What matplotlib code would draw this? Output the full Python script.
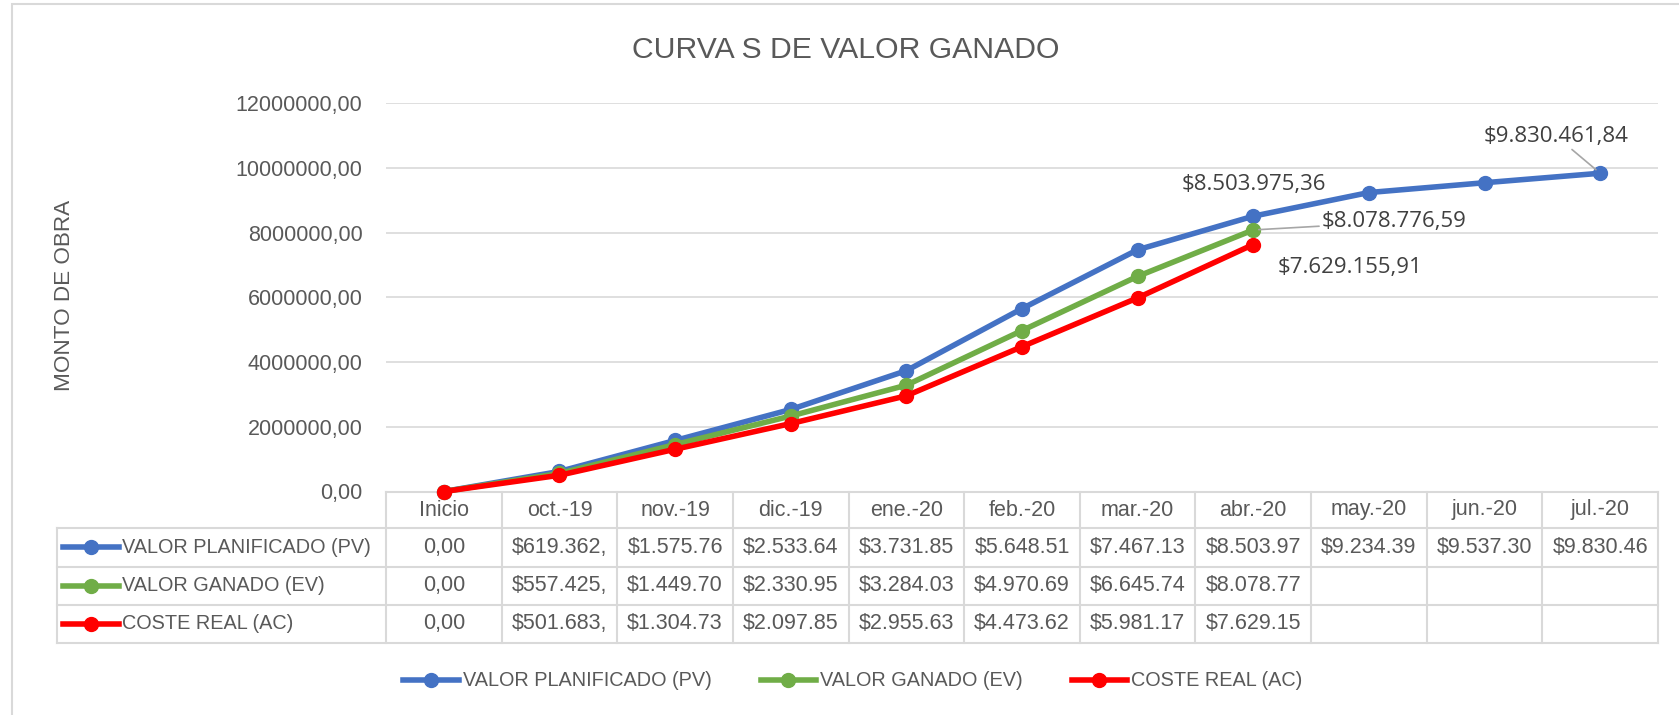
import numpy as np
import matplotlib
matplotlib.use("Agg")
import matplotlib.pyplot as plt
from matplotlib.lines import Line2D
from matplotlib.patches import Rectangle
from matplotlib.transforms import blended_transform_factory

categories = ["Inicio", "oct.-19", "nov.-19", "dic.-19", "ene.-20", "feb.-20",
              "mar.-20", "abr.-20", "may.-20", "jun.-20", "jul.-20"]
pv = [0, 619362, 1575760, 2533640, 3731850, 5648510, 7467130, 8503975.36,
      9234390, 9537300, 9830461.84]
ev = [0, 557425, 1449700, 2330950, 3284030, 4970690, 6645740, 8078776.59]
ac = [0, 501683, 1304730, 2097850, 2955630, 4473620, 5981170, 7629155.91]
series_names = ["VALOR PLANIFICADO (PV)", "VALOR GANADO (EV)", "COSTE REAL (AC)"]
yticks = [0, 2e6, 4e6, 6e6, 8e6, 10e6, 12e6]

colors = ["#4472C4", "#70AD47", "#FF0000"]
txt = "#595959"
grid = "#D9D9D9"
W, H = 1679, 715
FONT = "Liberation Sans"


def money(v):
    s = f"{v:,.2f}".replace(",", "X").replace(".", ",").replace("X", ".")
    return s


def cell(v):
    # Excel cuts the text at the cell border
    if v == 0:
        return "0,00"
    return ("$" + money(v))[:9]


def fx(px):
    return px / W


def fy(py):
    return 1 - py / H


def main():
    plt.rcParams["font.family"] = [FONT, "DejaVu Sans"]
    fig = plt.figure(figsize=(W / 100, H / 100), dpi=100)
    fig.patches.append(Rectangle((fx(12), -0.1), 1.2, fy(4) + 0.1,
                                 transform=fig.transFigure, fill=False,
                                 edgecolor=grid, lw=1.5))

    ax = fig.add_axes([fx(386), fy(491.5), fx(1658) - fx(386), fy(103) - fy(491.5)])
    x = np.arange(len(categories))
    ax.set_xlim(-0.5, len(categories) - 0.5)
    ax.set_ylim(0, 12e6)
    ax.set_yticks(yticks)
    ax.set_yticklabels([f"{v:.2f}".replace(".", ",") for v in yticks],
                       fontsize=15.5, color=txt)
    ax.tick_params(axis="y", length=0, pad=17)
    ax.set_xticks([])
    for s in ["top", "right", "left"]:
        ax.spines[s].set_visible(False)
    ax.spines["bottom"].set_color(grid)
    ax.spines["bottom"].set_linewidth(1.5)
    ax.grid(axis="y", color=grid, lw=1.2)
    ax.set_axisbelow(True)

    handles = []
    for vals, c, name in zip([pv, ev, ac], colors, series_names):
        h, = ax.plot(x[:len(vals)], vals, color=c, lw=4, marker="o", ms=10,
                     label=name, clip_on=False, zorder=3)
        handles.append(h)

    ann = dict(fontsize=16, color="#404040", family=["Open Sans", "DejaVu Sans"],
               textcoords="offset pixels", ha="center", va="center")
    lead = dict(arrowstyle="-", color="#A6A6A6", lw=1.2, shrinkA=0, shrinkB=4)
    ax.annotate("$" + money(pv[7]), (7, pv[7]), xytext=(1, 32), **ann)
    ax.annotate("$" + money(ev[7]), (7, ev[7]), xytext=(141, 8), arrowprops=lead,
                **ann)
    ax.annotate("$" + money(ac[7]), (7, ac[7]), xytext=(97, -23), **ann)
    ax.annotate("$" + money(pv[10]), (10, pv[10]), xytext=(-44, 37),
                arrowprops=lead, **ann)

    fig.text(fx(846), fy(50), "CURVA S DE VALOR GANADO", fontsize=21.7,
             color=txt, ha="center", va="center")
    fig.text(fx(64), fy(295), "MONTO DE OBRA", fontsize=16.2, color=txt,
             rotation=90, ha="center", va="center")

    # data table under the axis
    tr = blended_transform_factory(ax.transData, fig.transFigure)
    rows = [491.5, 528, 566.5, 604.5, 642.5]
    for i, name in enumerate(categories):
        ax.text(i, fy(510), name, transform=tr, ha="center", va="center",
                fontsize=15.5, color=txt)
        ax.add_line(Line2D([i - 0.5, i - 0.5], [fy(rows[0]), fy(rows[-1])],
                           transform=tr, color=grid, lw=1.5, clip_on=False))
    n = len(categories)
    ax.add_line(Line2D([n - 0.5, n - 0.5], [fy(rows[0]), fy(rows[-1])],
                       transform=tr, color=grid, lw=1.5, clip_on=False))
    for r in rows[1:]:
        fig.add_artist(Line2D([fx(57), fx(1658)], [fy(r), fy(r)],
                              transform=fig.transFigure, color=grid, lw=1.5))
    fig.add_artist(Line2D([fx(57), fx(57)], [fy(rows[1]), fy(rows[-1])],
                          transform=fig.transFigure, color=grid, lw=1.5))

    for k, (vals, c, name) in enumerate(zip([pv, ev, ac], colors, series_names)):
        yc = fy((rows[k + 1] + rows[k + 2]) / 2)
        fig.add_artist(Line2D([fx(63), fx(119)], [yc, yc], transform=fig.transFigure,
                              color=c, lw=4))
        fig.add_artist(Line2D([fx(91)], [yc], transform=fig.transFigure, color=c,
                              marker="o", ms=10))
        fig.text(fx(122), yc, name, fontsize=14.3, color=txt, va="center",
                 ha="left")
        for i, v in enumerate(vals):
            ax.text(i, yc, cell(v), transform=tr, ha="center", va="center",
                    fontsize=15.5, color=txt)

    fig.legend(handles=handles, loc="center", bbox_to_anchor=(fx(853), fy(681)),
               ncol=3, frameon=False, fontsize=14.3, labelcolor=txt,
               handlelength=2.8, handletextpad=0.2, columnspacing=2.45)

    fig.savefig("out.png", dpi=100)


if __name__ == "__main__":
    main()
